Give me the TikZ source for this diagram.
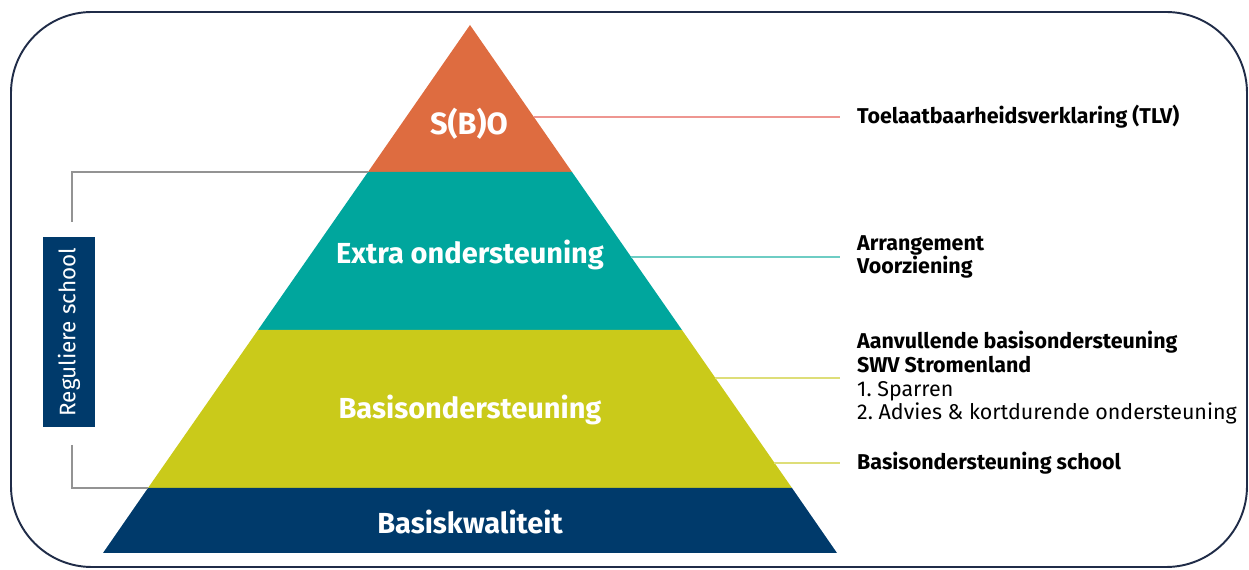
\documentclass[tikz,border=0pt]{standalone}
\usepackage{fontspec}
\setmainfont{Fira Sans}
\usepackage{xcolor}
\usetikzlibrary{positioning}
\definecolor{sboorange}{RGB}{222,108,64}
\definecolor{extrateal}{RGB}{0,166,157}
\definecolor{basisgreen}{RGB}{202,202,26}
\definecolor{kwalnavy}{RGB}{0,58,107}
\definecolor{kaderblauw}{RGB}{32,44,72}
\definecolor{lijnroze}{RGB}{238,150,145}
\definecolor{lijnteal}{RGB}{110,205,196}
\definecolor{lijngeel}{RGB}{222,222,120}

\begin{document}
\begin{tikzpicture}[
    x=0.02cm, y=-0.02cm,
    laag/.style={font=\bfseries\fontsize{16.5}{18}\selectfont, text=white},
    uitleg/.style={anchor=west, align=left, inner ysep=0pt, inner xsep=9.6pt,
                   font=\fontsize{12.2}{13.5}\selectfont},
    verbind/.style={line width=0.7pt},
    haak/.style={draw=gray!85, line width=0.8pt},
]
\useasboundingbox (0,0) rectangle (1249,570);
\draw[kaderblauw, line width=1.1pt, rounded corners=46pt] (11,12) rectangle (1247,567);

% pyramide
\coordinate (top) at (470,25);
\coordinate (sbo-l) at (368,172);   \coordinate (sbo-r) at (572,172);
\coordinate (extra-l) at (258,330); \coordinate (extra-r) at (682,330);
\coordinate (basis-l) at (148,488); \coordinate (basis-r) at (792,488);
\coordinate (kwal-l) at (103,553);  \coordinate (kwal-r) at (837,553);
\fill[sboorange] (top) -- (sbo-r) -- (sbo-l) -- cycle;
\fill[extrateal] (sbo-l) -- (sbo-r) -- (extra-r) -- (extra-l) -- cycle;
\fill[basisgreen] (extra-l) -- (extra-r) -- (basis-r) -- (basis-l) -- cycle;
\fill[kwalnavy] (basis-l) -- (basis-r) -- (kwal-r) -- (kwal-l) -- cycle;

\node[laag, font=\bfseries\fontsize{17.5}{19}\selectfont] (sbo) at (469,124) {S(B)O};
\node[laag] (extra) at (470,255) {Extra ondersteuning};
\node[laag] (basis) at (470,410) {Basisondersteuning};
\node[laag] (kwal) at (470,522) {Basiskwaliteit};

% uitleg rechts
\node[uitleg] (tlv) at (840,117) {\textbf{Toelaatbaarheidsverklaring (TLV)}};
\node[uitleg] (arr) at (840,257) {\textbf{Arrangement}\\\textbf{Voorziening}};
\node[uitleg] (aanv) at (840,378) {\textbf{Aanvullende basisondersteuning}\\\textbf{SWV Stromenland}\\1.\ Sparren\\2.\ Advies \& kortdurende ondersteuning};
\node[uitleg] (school) at (840,463) {\textbf{Basisondersteuning school}};

\coordinate (sbo-rand) at (534,117);
\coordinate (extra-rand) at (631,257);
\coordinate (aanv-rand) at (715,378);
\coordinate (school-rand) at (774,463);
\draw[verbind, lijnroze] (sbo-rand) -- (tlv.west);
\draw[verbind, lijnteal] (extra-rand) -- (arr.west);
\draw[verbind, lijngeel] (aanv-rand) -- (aanv.west);
\draw[verbind, lijngeel] (school-rand) -- (school.west);

% reguliere school
\node[fill=kwalnavy, text=white, rotate=90, minimum width=3.82cm, minimum height=1.06cm,
      font=\fontsize{12.8}{14}\selectfont] (regulier) at (69,332) {Reguliere school};
\coordinate (haak-boven) at (72,172);
\coordinate (haak-onder) at (72,488);
\draw[haak] (sbo-l) -- (haak-boven) -- (72,222);
\draw[haak] (72,445) -- (haak-onder) -- (basis-l);
\end{tikzpicture}
\end{document}
